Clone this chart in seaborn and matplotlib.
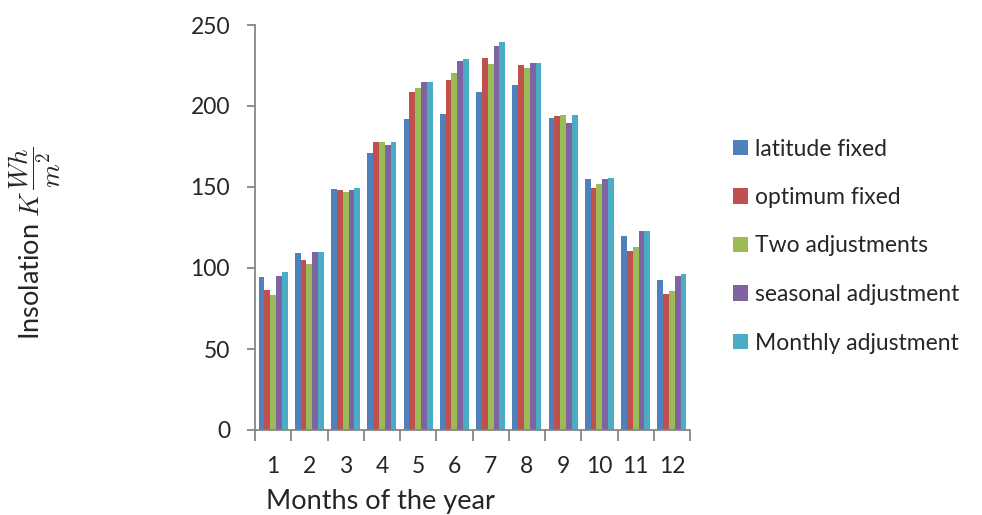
import numpy as np
import pandas as pd
import matplotlib
matplotlib.use("Agg")
import matplotlib.pyplot as plt
import seaborn as sns

months = [str(m) for m in range(1, 13)]
series = ["latitude fixed", "optimum fixed", "Two adjustments",
          "seasonal adjustment", "Monthly adjustment"]

latitude_fixed = [94.3, 109.4, 148.5, 170.8, 192.2, 194.9, 208.7, 212.8, 192.6, 155.1, 119.7, 92.3]
optimum_fixed = [86.7, 104.8, 148.1, 177.6, 208.5, 216.3, 229.5, 225.1, 193.8, 149.3, 110.6, 84.1]
two_adjust = [83.6, 102.6, 146.7, 178.0, 211.1, 220.6, 226.0, 223.3, 194.5, 151.6, 113.1, 86.1]
seasonal_adjust = [95.2, 109.6, 147.9, 175.7, 214.6, 227.6, 237.3, 226.8, 189.3, 154.7, 122.6, 95.2]
monthly_adjust = [97.4, 109.6, 149.1, 178.0, 214.6, 228.9, 239.8, 226.8, 194.7, 155.3, 123.0, 96.0]

colors = ["#4F81BD", "#C0504D", "#9BBB59", "#8064A2", "#4BACC6"]

values = [latitude_fixed, optimum_fixed, two_adjust, seasonal_adjust, monthly_adjust]
rows = []
for name, vals in zip(series, values):
    for m, v in zip(months, vals):
        rows.append({"Month": m, "Series": name, "Insolation": v})
df = pd.DataFrame(rows)

sns.set_style("white")
plt.rcParams["font.family"] = ["Lato", "DejaVu Sans"]
plt.rcParams["mathtext.fontset"] = "cm"

fig = plt.figure(figsize=(9.82, 5.15), dpi=100)
ax = fig.add_axes([255 / 982, 1 - 430 / 515, 435 / 982, 405 / 515])

sns.barplot(data=df, x="Month", y="Insolation", hue="Series",
            palette=colors, width=0.8, saturation=1, ax=ax,
            edgecolor="none", linewidth=0)

ax.set_ylim(0, 250)
ax.set_yticks(range(0, 251, 50))
ax.set_xlim(-0.5, 11.5)
ax.set_xlabel("")
ax.set_ylabel("")

for side in ["top", "right"]:
    ax.spines[side].set_visible(False)
for side in ["left", "bottom"]:
    ax.spines[side].set_color("#868686")
    ax.spines[side].set_linewidth(1.3)

ax.tick_params(axis="y", left=True, length=6, width=1.3, color="#868686",
               labelsize=16.5, pad=12)
ax.tick_params(axis="x", which="major", bottom=False, labelsize=16.5, pad=15)
ax.set_xticks(np.arange(-0.5, 12, 1), minor=True)
ax.tick_params(axis="x", which="minor", bottom=True, length=8, width=1.3,
               color="#868686")

ax.legend(loc="center left", bbox_to_anchor=(733 / 982, 1 - 246 / 515),
          bbox_transform=fig.transFigure, frameon=False, fontsize=16.5,
          handlelength=0.65, handleheight=0.65, handletextpad=0.3,
          labelspacing=1.2, borderaxespad=0, borderpad=0)

fig.text(35 / 982, 1 - 243 / 515, r"Insolation $K\,\dfrac{Wh}{m^2}$",
         rotation=90, ha="center", va="center", fontsize=19.5)
fig.text(380 / 982, 1 - 502 / 515, "Months of the year",
         ha="center", va="center", fontsize=19.5)

fig.savefig("out.png", dpi=100)
